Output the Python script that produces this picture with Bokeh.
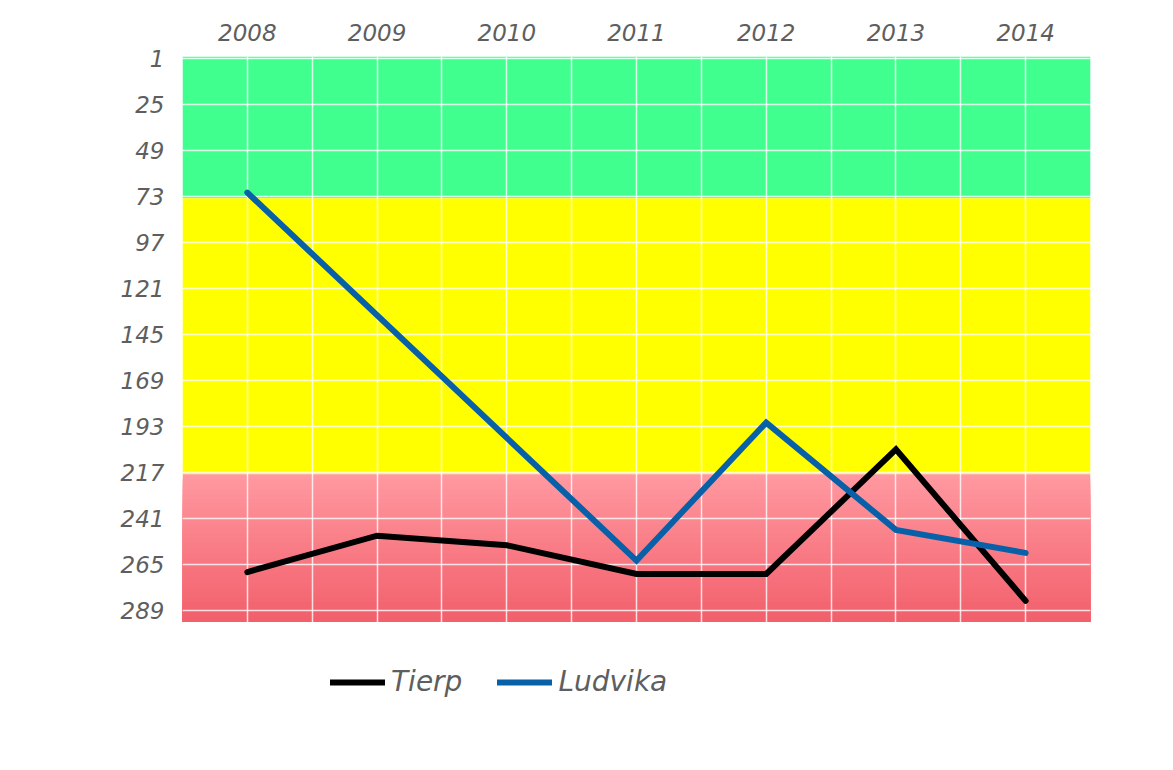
from bokeh.plotting import figure
from bokeh.models import Range1d, FixedTicker, Legend, LegendItem
from bokeh.embed import file_html
from bokeh.resources import INLINE

# ---- data ----
years = [2008, 2009, 2010, 2011, 2012, 2013, 2014]
tierp = [269, 250, 255, 270, 270, 205, 284]
ludvika_years = [2008, 2011, 2012, 2013, 2014]
ludvika = [71, 263, 191, 247, 259]
rank_ticks = [1, 25, 49, 73, 97, 121, 145, 169, 193, 217, 241, 265, 289]
half_years = [2007.5, 2008.5, 2009.5, 2010.5, 2011.5, 2012.5, 2013.5, 2014.5]
band_edges = [0, 74, 218, 295]          # green | yellow | red
x_min, x_max = 2007.5, 2014.5
y_view_bottom = 360                     # white space under the bands holds the legend

FONT = "DejaVu Sans"
TXT = "#5e5e5e"

p = figure(frame_width=908, frame_height=690,
           min_border_left=182, min_border_right=60,
           min_border_top=56, min_border_bottom=0,
           x_range=Range1d(x_min, x_max),
           y_range=Range1d(y_view_bottom, band_edges[0]),
           x_axis_location="above",
           output_backend="svg", toolbar_location=None)
p.outline_line_color = None
p.background_fill_color = "white"
p.border_fill_color = "white"

# ---- bands ----
p.quad(left=x_min, right=x_max, top=band_edges[0], bottom=band_edges[1],
       fill_color="#40FF8E", line_color=None, level="image")
p.quad(left=x_min, right=x_max, top=band_edges[1], bottom=band_edges[2],
       fill_color="#FFFF00", line_color=None, level="image")
# red band with a vertical gradient (overlapping strips, painted top to bottom)
n = 30
c0 = (255, 152, 160)
c1 = (242, 96, 108)
step = (band_edges[3] - band_edges[2]) / n
tops, bots, cols = [], [], []
for i in range(n):
    t = i / (n - 1)
    col = tuple(int(round(c0[k] + (c1[k] - c0[k]) * t)) for k in range(3))
    tops.append(band_edges[2] + i * step)
    bots.append(band_edges[3])
    cols.append("#%02x%02x%02x" % col)
p.quad(left=x_min, right=x_max, top=tops, bottom=bots,
       fill_color=cols, line_color=None, level="image")

# ---- grid ----
p.xgrid.ticker = FixedTicker(ticks=years, minor_ticks=half_years)
p.xgrid.grid_line_color = "white"
p.xgrid.grid_line_alpha = 0.8
p.xgrid.grid_line_width = 1.5
p.xgrid.minor_grid_line_color = "white"
p.xgrid.minor_grid_line_alpha = 0.8
p.xgrid.minor_grid_line_width = 1.5
p.ygrid.ticker = FixedTicker(ticks=rank_ticks)
p.ygrid.grid_line_color = "white"
p.ygrid.grid_line_alpha = 0.8
p.ygrid.grid_line_width = 1.5

# ---- axes ----
for ax in (p.xaxis, p.yaxis):
    ax.axis_line_color = None
    ax.major_tick_line_color = None
    ax.minor_tick_line_color = None
    ax.major_label_text_font = FONT
    ax.major_label_text_font_style = "italic"
    ax.major_label_text_font_size = "23px"
    ax.major_label_text_color = TXT
p.xaxis.ticker = FixedTicker(ticks=years)
p.yaxis.ticker = FixedTicker(ticks=rank_ticks)
p.xaxis.major_label_standoff = 10
p.yaxis.major_label_standoff = 12

# ---- series ----
r_t = p.line(years, tierp, line_color="black", line_width=6,
             line_join="miter", line_cap="round")
r_l = p.line(ludvika_years, ludvika, line_color="#0860A8", line_width=6,
             line_join="miter", line_cap="round")

legend = Legend(items=[LegendItem(label="Tierp", renderers=[r_t]),
                       LegendItem(label="Ludvika", renderers=[r_l])],
                orientation="horizontal", location=(148, 48),
                label_text_font=FONT, label_text_font_style="italic",
                label_text_font_size="28px", label_text_color=TXT,
                glyph_width=55, glyph_height=30, label_standoff=6,
                spacing=35, border_line_color=None,
                background_fill_alpha=0, margin=0, padding=0)
p.add_layout(legend, "center")

open("out.html", "w").write(file_html(p, INLINE))
